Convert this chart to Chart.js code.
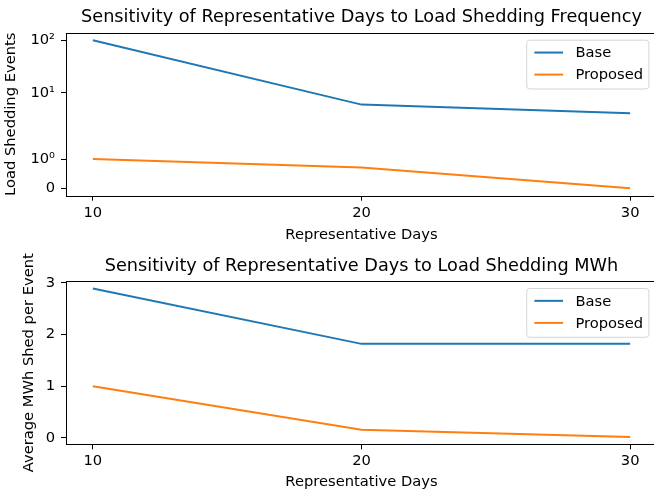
<!DOCTYPE html>
<html>
<head>
<meta charset="utf-8">
<script src="https://cdn.jsdelivr.net/npm/chart.js@4/dist/chart.umd.min.js"></script>
<style>
  html, body { margin: 0; padding: 0; background: #fff; overflow: hidden; }
  #wrap { position: relative; width: 654px; height: 492px; overflow: hidden; }
  canvas { position: absolute; left: 0; }
  #eventsChart { top: 0; }
  #mwhChart { top: 246px; }
</style>
</head>
<body>
<div id="wrap">
  <canvas id="eventsChart" width="664" height="246"></canvas>
  <canvas id="mwhChart" width="664" height="246"></canvas>
</div>
<script>
// Data
const days = [10, 20, 30];
const eventsBase = [100, 6, 4.1];
const eventsProposed = [1, 0.71, 0];
const mwhBase = [2.89, 1.82, 1.82];
const mwhProposed = [1.0, 0.16, 0.02];

const dayTicks = [10, 20, 30];
const eventTicks = [0, 1, 10, 100];
const eventTickLabels = ['0', '10\u2070', '10\u00b9', '10\u00b2'];
const mwhTicks = [0, 1, 2, 3];

const BLUE = '#1f77b4';
const ORANGE = '#ff7f0e';
const FS = 14.7;      // tick / label size
const TITLE_FS = 17.7;

Chart.defaults.font.family = '"DejaVu Sans", sans-serif';
Chart.defaults.color = '#000';

// matplotlib-style symlog (linthresh 2, linscale 1, base 10)
const LINTHRESH = 2;
const LINSCALE = 1 / (1 - 1 / 10);
function symlog(v) {
    const a = Math.abs(v);
    if (a <= LINTHRESH) return v * LINSCALE;
    return Math.sign(v) * LINTHRESH * (LINSCALE + Math.log10(a / LINTHRESH));
}
function symexp(t) {
    const a = Math.abs(t);
    if (a <= LINTHRESH * LINSCALE) return t / LINSCALE;
    return Math.sign(t) * LINTHRESH * Math.pow(10, a / LINTHRESH - LINSCALE);
}

class SymlogScale extends Chart.Scale {
    static id = 'symlog';
    static defaults = {};

    determineDataLimits() {
        const { min, max } = this.getMinMax(true);
        const lo = symlog(min), hi = symlog(max);
        const pad = (hi - lo) * 0.05;
        this.min = symexp(lo - pad);
        this.max = symexp(hi + pad);
    }
    buildTicks() {
        return eventTicks.map(v => ({ value: v }));
    }
    generateTickLabels(ticks) {
        ticks.forEach(t => {
            t.label = eventTickLabels[eventTicks.indexOf(t.value)];
        });
    }
    configure() {
        super.configure();
        this._startValue = symlog(this.min);
        this._valueRange = symlog(this.max) - this._startValue;
    }
    getPixelForValue(value) {
        return this.getPixelForDecimal((symlog(value) - this._startValue) / this._valueRange);
    }
    getValueForPixel(pixel) {
        return symexp(this._startValue + this.getDecimalForPixel(pixel) * this._valueRange);
    }
    getLabelForValue(value) {
        return String(value);
    }
}
Chart.register(SymlogScale);

function padded(values) {
    const lo = Math.min(...values), hi = Math.max(...values);
    const m = (hi - lo) * 0.05;
    return { min: lo - m, max: hi + m };
}

function points(ys) {
    return days.map((d, i) => ({ x: d, y: ys[i] }));
}

// box around the plot area
const frame = {
    id: 'frame',
    afterDatasetsDraw(chart) {
        const { ctx, chartArea: a } = chart;
        ctx.save();
        ctx.strokeStyle = '#000';
        ctx.lineWidth = 1;
        ctx.strokeRect(Math.round(a.left) + 0.5, Math.round(a.top) + 0.5,
            Math.round(a.right - a.left), Math.round(a.bottom - a.top));
        ctx.restore();
    }
};

// legend drawn in the upper right corner of the plot, matplotlib style
const cornerLegend = {
    id: 'cornerLegend',
    afterDraw(chart) {
        const { ctx, chartArea } = chart;
        const sets = chart.data.datasets;
        ctx.save();
        ctx.font = FS + 'px "DejaVu Sans"';
        const textW = Math.max(...sets.map(d => ctx.measureText(d.label).width));
        const rowH = FS * 1.5;
        const w = FS * (0.52 + 1.95 + 0.84 + 0.4) + textW;
        const h = FS * 0.84 + rowH * (sets.length - 1) + FS * 0.98;
        const right = chartArea.right - FS * 0.55;
        const top = chartArea.top + FS * 0.5;
        const left = right - w;

        ctx.beginPath();
        ctx.roundRect(left, top, w, h, 3);
        ctx.fillStyle = 'rgba(255,255,255,0.8)';
        ctx.fill();
        ctx.strokeStyle = 'rgba(204,204,204,0.8)';
        ctx.lineWidth = 1;
        ctx.stroke();

        sets.forEach((d, i) => {
            const y = top + FS * 0.84 + i * rowH;
            const x0 = left + FS * 0.52;
            ctx.beginPath();
            ctx.moveTo(x0, y);
            ctx.lineTo(x0 + FS * 1.95, y);
            ctx.strokeStyle = d.borderColor;
            ctx.lineWidth = 2;
            ctx.stroke();
            ctx.fillStyle = '#000';
            ctx.textAlign = 'left';
            ctx.textBaseline = 'middle';
            ctx.fillText(d.label, x0 + FS * 2.79, y + 1);
        });
        ctx.restore();
    }
};

function makeChart(id, opts) {
    const xr = padded(days);
    return new Chart(document.getElementById(id), {
        type: 'line',
        data: {
            datasets: [{
                label: 'Base',
                data: points(opts.base),
                borderColor: BLUE,
                backgroundColor: BLUE,
                borderWidth: 2,
                pointRadius: 0,
                tension: 0
            }, {
                label: 'Proposed',
                data: points(opts.proposed),
                borderColor: ORANGE,
                backgroundColor: ORANGE,
                borderWidth: 2,
                pointRadius: 0,
                tension: 0
            }]
        },
        options: {
            responsive: false,
            animation: false,
            layout: { padding: { left: 0, right: 7, top: 0, bottom: 0 } },
            plugins: {
                legend: { display: false },
                tooltip: { enabled: false },
                title: {
                    display: true,
                    text: opts.title,
                    fullSize: false,
                    font: { size: TITLE_FS, weight: 'normal', lineHeight: 1.2 },
                    color: '#000',
                    padding: opts.titlePad
                }
            },
            scales: {
                x: {
                    type: 'linear',
                    min: xr.min,
                    max: xr.max,
                    afterBuildTicks: s => { s.ticks = dayTicks.map(v => ({ value: v })); },
                    afterFit: s => { s.height = opts.xAxisH; },
                    grid: {
                        drawOnChartArea: false,
                        drawTicks: true,
                        tickLength: 5,
                        tickColor: '#000'
                    },
                    border: { display: false },
                    ticks: { font: { size: FS }, padding: 3.5, maxRotation: 0 },
                    title: {
                        display: true,
                        text: 'Representative Days',
                        font: { size: FS, lineHeight: 1.2 },
                        padding: { top: 0, bottom: opts.xTitlePad }
                    }
                },
                y: Object.assign({
                    afterFit: s => { s.width = 66; },
                    grid: {
                        drawOnChartArea: false,
                        drawTicks: true,
                        tickLength: 5,
                        tickColor: '#000'
                    },
                    border: { display: false },
                    ticks: { font: { size: FS }, padding: 6 },
                    title: {
                        display: true,
                        text: opts.yTitle,
                        font: { size: FS, lineHeight: 1.2 },
                        padding: { top: opts.yTitlePad, bottom: 0 }
                    }
                }, opts.yScale)
            }
        },
        plugins: [frame, cornerLegend]
    });
}

const mwhRange = padded(mwhBase.concat(mwhProposed));

const eventsChart = makeChart('eventsChart', {
    title: 'Sensitivity of Representative Days to Load Shedding Frequency',
    titlePad: { top: 6.8, bottom: 4.8 },
    yTitle: 'Load Shedding Events',
    yTitlePad: 2.8,
    xAxisH: 50.3,
    xTitlePad: 1.8,
    base: eventsBase,
    proposed: eventsProposed,
    yScale: { type: 'symlog' }
});

const mwhChart = makeChart('mwhChart', {
    title: 'Sensitivity of Representative Days to Load Shedding MWh',
    titlePad: { top: 9.3, bottom: 4.6 },
    yTitle: 'Average MWh Shed per Event',
    yTitlePad: 20.5,
    xAxisH: 47.7,
    xTitlePad: 0.8,
    base: mwhBase,
    proposed: mwhProposed,
    yScale: {
        type: 'linear',
        min: mwhRange.min,
        max: mwhRange.max,
        afterBuildTicks: s => { s.ticks = mwhTicks.map(v => ({ value: v })); }
    }
});
</script>
</body>
</html>
